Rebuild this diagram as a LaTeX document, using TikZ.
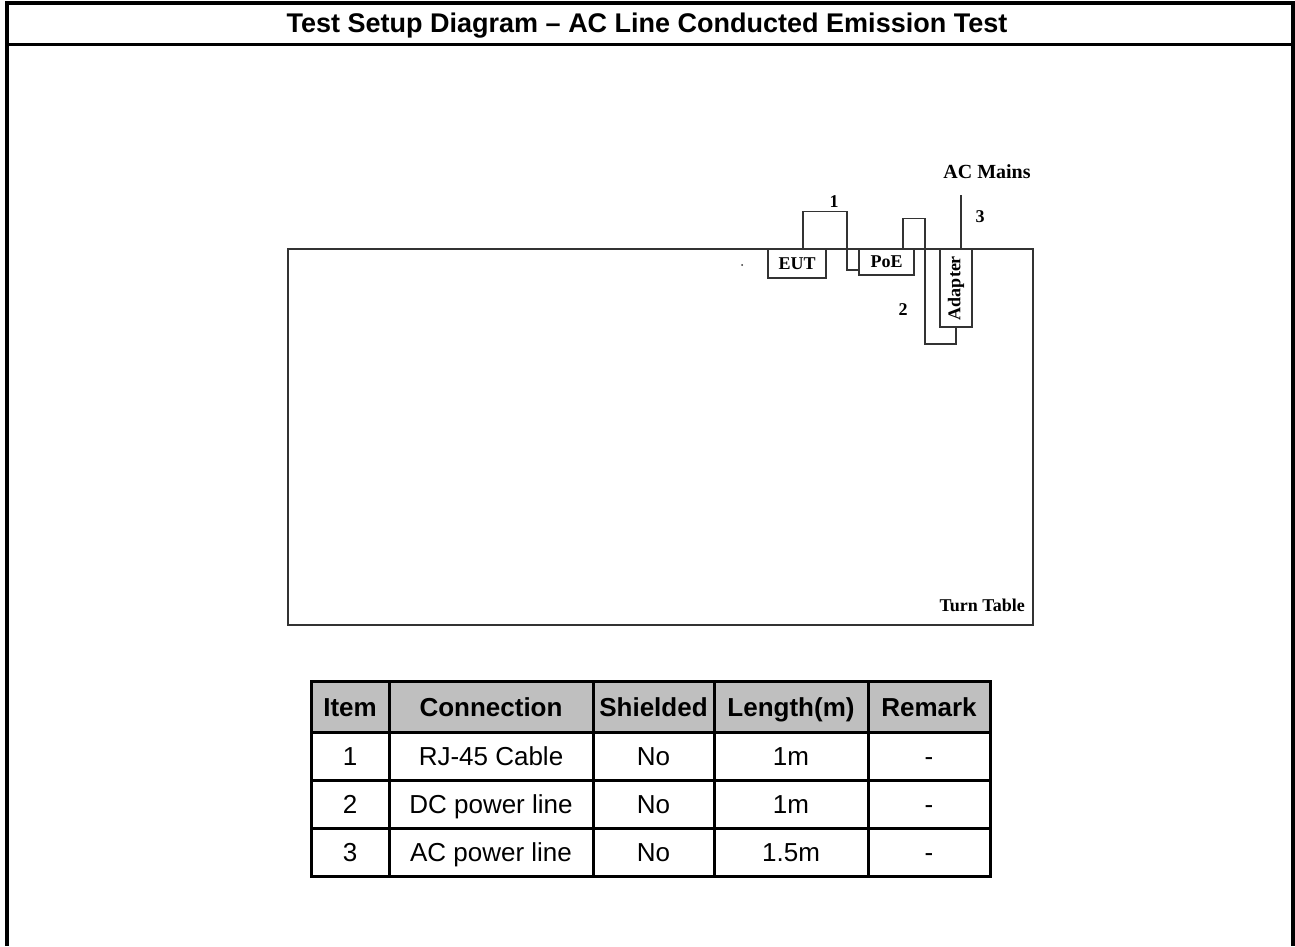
\documentclass[tikz,border=0pt]{standalone}
\usepackage{fontspec}
\setmainfont{Liberation Serif}
\newfontfamily\arialfont{Liberation Sans}
\usetikzlibrary{positioning, calc}

\begin{document}
\begin{tikzpicture}[x=1pt, y=-1pt]

\tikzset{
    frame/.style={line width=4pt, black},
    cable/.style={line width=1.4pt, black!80},
    unit/.style={draw=black!80, line width=1.4pt, inner sep=0pt, font=\fontsize{18}{20}\selectfont\bfseries},
    lbl/.style={inner sep=0pt, font=\fontsize{18}{20}\selectfont\bfseries},
    hdr/.style={draw, line width=3pt, fill=black!25, inner sep=0pt, minimum height=51pt,
        text height=19pt, text depth=0pt, font=\arialfont\fontsize{26}{30}\selectfont\bfseries},
    cell/.style={draw, line width=3pt, inner sep=0pt, minimum height=48pt,
        text height=19pt, text depth=0pt, font=\arialfont\fontsize{26}{30}\selectfont}
}

\useasboundingbox (0,0) rectangle (1295,946);

%====================================================
% OUTER FRAME AND TITLE
%====================================================
\draw[frame] (7,946) -- (7,3) -- (1293,3) -- (1293,946);
\draw[line width=3pt] (7,44) -- (1293,44);
\node[font=\arialfont\fontsize{27}{30}\selectfont\bfseries, text height=19pt, text depth=0pt] (title) at (647,23)
    {Test Setup Diagram \textendash{} AC Line Conducted Emission Test};

%====================================================
% TURN TABLE WITH EUT, PoE AND ADAPTER
%====================================================
\node[draw=black!80, line width=1.4pt, minimum width=745pt, minimum height=376pt] (turntable) at (660.5,437) {};
\node[lbl, anchor=east] (ttlabel) at (1025,605) {Turn Table};

\node[unit, minimum width=58pt, minimum height=29pt] (eut) at (797,263.5) {EUT};
\node[unit, minimum width=55pt, minimum height=26pt] (poe) at (886.5,262) {PoE};
\node[unit, minimum width=32pt, minimum height=78pt] (adapter) at (956,288)
    {\rotatebox{90}{Adapter}};

\fill[black!80] (742,265) circle (1pt);

% cable 1: EUT to PoE
\draw[cable] ([xshift=6pt]eut.north) |- ++(44,-37) |- ([yshift=-8pt]poe.west);
\node[lbl] (n1) at (834,202) {1};

% cable 2: PoE to adapter
\coordinate (c2low) at (956,344);
\draw[cable] ([xshift=16.5pt]poe.north) -- ++(0,-30) -| ($(c2low)+(-31,0)$) -- (c2low) -- (adapter.south);
\node[lbl] (n2) at (903,310) {2};

% cable 3: adapter to AC mains
\coordinate (mains) at (961,195);
\draw[cable] (mains |- adapter.north) -- (mains);
\node[lbl] (n3) at (980,217) {3};
\node[lbl, font=\fontsize{20}{22}\selectfont\bfseries] (acmains) at (987,172) {AC Mains};

%====================================================
% CABLE TABLE
%====================================================
\foreach \x/\w/\t [count=\i] in {350/78/Item, 491/204/Connection, 653.5/121/Shielded, 791/154/Length(m), 929/122/Remark}{
    \node[hdr, minimum width=\w pt] (h\i) at (\x,706.5) {\t};
}

\foreach \y/\a/\b/\c/\d/\e [count=\j] in {
    756/1/RJ-45 Cable/No/1m/-,
    804/2/DC power line/No/1m/-,
    852/3/AC power line/No/1.5m/-
}{
    \node[cell, minimum width=78pt]  (r\j c1) at (350,\y)   {\a};
    \node[cell, minimum width=204pt] (r\j c2) at (491,\y)   {\b};
    \node[cell, minimum width=121pt] (r\j c3) at (653.5,\y) {\c};
    \node[cell, minimum width=154pt] (r\j c4) at (791,\y)   {\d};
    \node[cell, minimum width=122pt] (r\j c5) at (929,\y)   {\e};
}

\end{tikzpicture}
\end{document}
